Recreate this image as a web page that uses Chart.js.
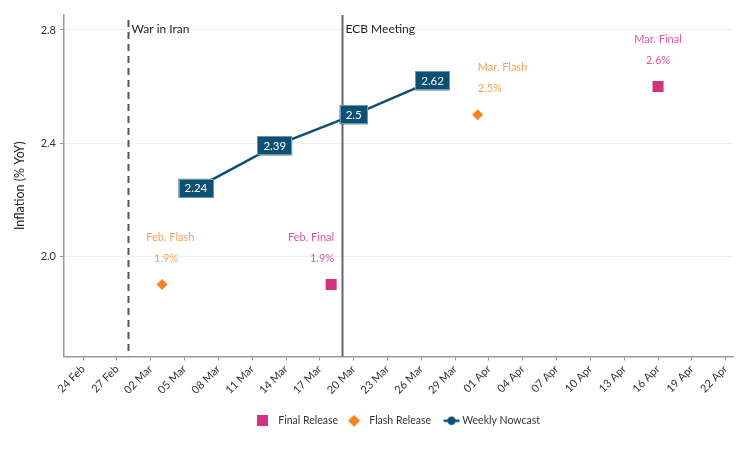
<!DOCTYPE html>
<html>
<head>
<meta charset="utf-8">
<script src="https://cdn.jsdelivr.net/npm/chart.js@4.4.1/dist/chart.umd.min.js"></script>
<style>
  html, body { margin: 0; padding: 0; background: #fff; }
  #wrap { width: 756px; height: 450px; }
</style>
</head>
<body>
<div id="wrap"><canvas id="grafico" width="756" height="450"></canvas></div>
<script>
// =====================================================================
// Inflation nowcast vs. official releases
// =====================================================================

const baseDate = '2026-02-24';

const nowcastDates = ['2026-03-06', '2026-03-13', '2026-03-20', '2026-03-27'];
const nowcastValues = [2.24, 2.39, 2.5, 2.62];

const flashDates = ['2026-03-03', '2026-03-31'];
const flashValues = [1.9, 2.5];
const flashNames = ['Feb. Flash', 'Mar. Flash'];

const finalDates = ['2026-03-18', '2026-04-16'];
const finalValues = [1.9, 2.6];
const finalNames = ['Feb. Final', 'Mar. Final'];

const eventDates = ['2026-02-28', '2026-03-19'];
const eventNames = ['War in Iran', 'ECB Meeting'];
const eventDashed = [true, false];

const tickDates = [
  '2026-02-24', '2026-02-27', '2026-03-02', '2026-03-05', '2026-03-08', '2026-03-11', '2026-03-14',
  '2026-03-17', '2026-03-20', '2026-03-23', '2026-03-26', '2026-03-29', '2026-04-01', '2026-04-04',
  '2026-04-07', '2026-04-10', '2026-04-13', '2026-04-16', '2026-04-19', '2026-04-22'
];
const yTicks = [2.0, 2.4, 2.8];

const legendNames = ['Final Release', 'Flash Release', 'Weekly Nowcast'];

const COR_FINAL = '#D6317F';
const COR_FLASH = '#F5821F';
const COR_NOWCAST = '#0C5173';
const COR_TEXTO_FINAL = '#E0569A';
const COR_TEXTO_FLASH = '#F6A15B';

// alinhamento dos rótulos de divulgação (fração da largura à esquerda do ponto, deslocamento em px)
const ALINHA_FLASH = [{ a: 0.33, dx: 0 }, { a: 0, dx: 0 }];
const ALINHA_FINAL = [{ a: 1, dx: 3 }, { a: 0.5, dx: 0 }];

const mesesNomes = ['Jan', 'Feb', 'Mar', 'Apr', 'May', 'Jun', 'Jul', 'Aug', 'Sep', 'Oct', 'Nov', 'Dec'];
const baseMs = Date.parse(baseDate + 'T00:00:00Z');

function toDay(s) {
  return (Date.parse(s + 'T00:00:00Z') - baseMs) / 864e5;
}

function formatarDia(v) {
  const d = new Date(baseMs + Math.round(v) * 864e5);
  return String(d.getUTCDate()).padStart(2, '0') + ' ' + mesesNomes[d.getUTCMonth()];
}

function pontos(datas, valores) {
  return datas.map((d, i) => ({ x: toDay(d), y: valores[i] }));
}

function icone(w, h, desenhar) {
  const c = document.createElement('canvas');
  c.width = w;
  c.height = h;
  desenhar(c.getContext('2d'));
  return c;
}

// ícones da legenda (caixa de 16px, forma encostada à esquerda)
const iconeFinal = icone(16, 11, (ctx) => { ctx.fillStyle = COR_FINAL; ctx.fillRect(0, 0, 11, 11); });
const iconeFlash = icone(16, 12, (ctx) => {
  ctx.fillStyle = COR_FLASH;
  ctx.beginPath();
  ctx.moveTo(6, 0); ctx.lineTo(12, 6); ctx.lineTo(6, 12); ctx.lineTo(0, 6);
  ctx.closePath();
  ctx.fill();
});
const iconeNowcast = icone(22, 10, (ctx) => {
  ctx.strokeStyle = COR_NOWCAST;
  ctx.lineWidth = 2.5;
  ctx.beginPath(); ctx.moveTo(5.5, 5); ctx.lineTo(21.5, 5); ctx.stroke();
  ctx.fillStyle = COR_NOWCAST;
  ctx.beginPath(); ctx.arc(13.5, 5, 4.2, 0, Math.PI * 2); ctx.fill();
});

const anotacoes = {
  id: 'anotacoes',
  afterLayout(chart) {
    // centraliza a legenda sobre o painel, como no original
    chart.legend.left = chart.chartArea.left;
    chart.legend.right = chart.chartArea.right;
  },
  beforeDatasetsDraw(chart) {
    const { ctx, chartArea, scales: { x } } = chart;
    ctx.save();
    eventDates.forEach((d, i) => {
      const px = Math.round(x.getPixelForValue(toDay(d))) + 0.5;
      ctx.strokeStyle = eventDashed[i] ? '#555' : '#666';
      ctx.lineWidth = 2;
      ctx.setLineDash(eventDashed[i] ? [7, 5] : []);
      ctx.beginPath();
      ctx.moveTo(px, eventDashed[i] ? chartArea.top + 5 : chartArea.top);
      ctx.lineTo(px, chartArea.bottom);
      ctx.stroke();

      ctx.setLineDash([]);
      ctx.font = '12px Lato';
      const w = ctx.measureText(eventNames[i]).width;
      ctx.fillStyle = '#fff';
      ctx.fillRect(px + 2, chartArea.top + 6, w + 2, 16);
      ctx.fillStyle = '#222';
      ctx.textAlign = 'left';
      ctx.textBaseline = 'middle';
      ctx.fillText(eventNames[i], px + 3, chartArea.top + 14);
    });
    ctx.restore();
  },
  afterDatasetsDraw(chart) {
    const { ctx, scales: { x, y } } = chart;
    ctx.save();
    ctx.textBaseline = 'middle';

    // rótulos das divulgações
    ctx.font = '11px Lato';
    ctx.textAlign = 'left';
    const rotulos = (datas, valores, nomes, alinha, cor) => {
      datas.forEach((d, i) => {
        const px = x.getPixelForValue(toDay(d)) + alinha[i].dx;
        const py = y.getPixelForValue(valores[i]);
        const linhas = [[nomes[i], -47], [valores[i].toFixed(1) + '%', -26]];
        ctx.fillStyle = cor;
        linhas.forEach(([t, dy]) => {
          const w = ctx.measureText(t).width;
          ctx.fillText(t, px - alinha[i].a * w, py + dy);
        });
      });
    };
    rotulos(flashDates, flashValues, flashNames, ALINHA_FLASH, COR_TEXTO_FLASH);
    rotulos(finalDates, finalValues, finalNames, ALINHA_FINAL, COR_TEXTO_FINAL);

    // caixas do nowcast
    ctx.textAlign = 'center';
    ctx.font = '11.5px Lato';
    nowcastDates.forEach((d, i) => {
      const px = x.getPixelForValue(toDay(d));
      const py = y.getPixelForValue(nowcastValues[i]);
      const texto = String(nowcastValues[i]);
      const w = ctx.measureText(texto).width + 12;
      const h = 19;
      ctx.fillStyle = COR_NOWCAST;
      ctx.fillRect(px - w / 2, py - h / 2, w, h);
      ctx.strokeStyle = '#6f96aa';
      ctx.lineWidth = 1;
      ctx.strokeRect(Math.round(px - w / 2) + 0.5, Math.round(py - h / 2) + 0.5, Math.round(w) - 1, h - 1);
      ctx.fillStyle = '#fff';
      ctx.fillText(texto, px, py + 0.5);
    });
    ctx.restore();
  }
};

Chart.defaults.font.family = 'Lato';

new Chart(document.getElementById('grafico'), {
  type: 'scatter',
  data: {
    datasets: [
      { label: legendNames[0], data: pontos(finalDates, finalValues), pointStyle: 'rect', pointRadius: 7.8, backgroundColor: COR_FINAL, borderColor: COR_FINAL, borderWidth: 0 },
      { label: legendNames[1], data: pontos(flashDates, flashValues), pointStyle: 'rectRot', pointRadius: 5.5, backgroundColor: COR_FLASH, borderColor: COR_FLASH, borderWidth: 0 },
      { label: legendNames[2], data: pontos(nowcastDates, nowcastValues), showLine: true, borderColor: COR_NOWCAST, borderWidth: 2.5, pointRadius: 0 }
    ]
  },
  options: {
    responsive: false,
    animation: false,
    layout: { padding: { top: 15, right: 23, bottom: 14, left: 0 } },
    plugins: {
      tooltip: { enabled: false },
      legend: {
        position: 'bottom',
        labels: {
          usePointStyle: true,
          pointStyleWidth: 16,
          boxHeight: 11,
          padding: 10,
          color: '#333',
          font: { size: 10.5 },
          generateLabels: () => [iconeFinal, iconeFlash, iconeNowcast].map((ic, i) => ({
            text: legendNames[i], pointStyle: ic, fillStyle: '#fff', strokeStyle: '#fff', lineWidth: 0, hidden: false, datasetIndex: i, fontColor: '#333'
          }))
        }
      }
    },
    scales: {
      x: {
        type: 'linear',
        min: toDay('2026-02-22') + 0.3,
        max: toDay('2026-04-22') + 0.65,
        afterFit: (s) => { s.height = 49; },
        afterBuildTicks: (s) => { s.ticks = tickDates.map((d) => ({ value: toDay(d) })); },
        ticks: { callback: (v) => formatarDia(v), minRotation: 45, maxRotation: 45, autoSkip: false, color: '#333', font: { size: 11 }, padding: 2 },
        grid: { drawOnChartArea: false, tickColor: '#999', tickLength: 4 },
        border: { color: '#999', width: 1.5 }
      },
      y: {
        min: 1.645,
        max: 2.853,
        afterFit: (s) => { s.width = 64; },
        afterBuildTicks: (s) => { s.ticks = yTicks.map((v) => ({ value: v })); },
        ticks: { callback: (v) => v.toFixed(1), color: '#333', font: { size: 11 }, padding: 4 },
        grid: { color: '#efefef', tickColor: '#999', tickLength: 4 },
        border: { color: '#999', width: 1.5 },
        title: { display: true, text: 'Inflation (% YoY)', color: '#222', font: { size: 12.5 }, padding: { top: 12, bottom: 0 } }
      }
    }
  },
  plugins: [anotacoes]
});
</script>
</body>
</html>
